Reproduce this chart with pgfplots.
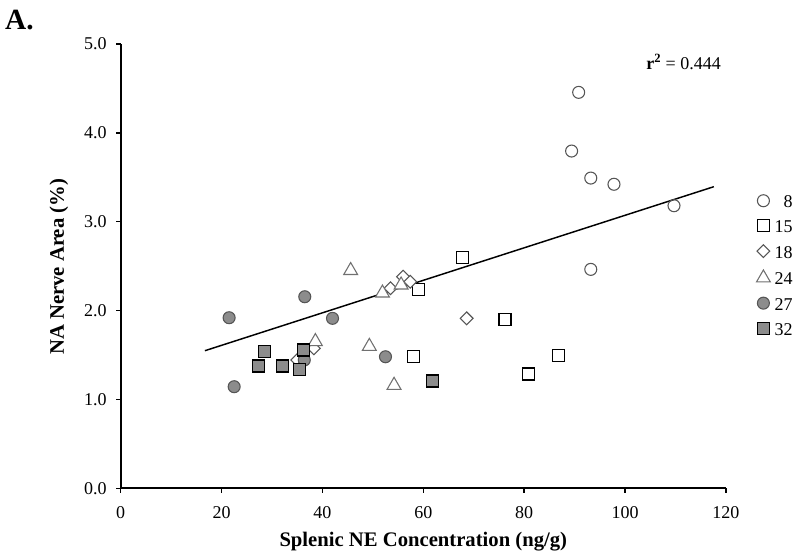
\documentclass[border=0pt]{standalone}
\usepackage{fontspec}
\setmainfont{Liberation Serif}
\usepackage{pgfplots}
\pgfplotsset{compat=1.18}
\definecolor{mkgray}{HTML}{8C8C8C}
\definecolor{ogray}{HTML}{555555}
\definecolor{tgray}{HTML}{707070}
\begin{document}
\begin{tikzpicture}
\useasboundingbox (0,0) rectangle (600pt,419.25pt);
\node[font=\fontsize{22}{24}\selectfont\bfseries] at (14.5pt,404pt) {A.};
\begin{axis}[
  at={(90.5pt,53pt)}, anchor=south west,
  x=3.783pt, y=66.675pt,
  xmin=0, xmax=120, ymin=0, ymax=5,
  clip=false,
  axis x line=bottom, axis y line=left,
  axis line style={-, line width=1.4pt},
  tick align=outside, major tick length=3.5pt,
  tick style={line width=1.2pt, black},
  xtick={0,20,...,120}, ytick={0,1,...,5},
  /pgf/number format/assume math mode=true,
  tick label style={font=\fontsize{13.5}{15}\selectfont},
  y tick label style={xshift=-3.5pt, /pgf/number format/.cd, fixed, fixed zerofill, precision=1},
  x tick label style={yshift=-6.5pt},
  xlabel={Splenic NE Concentration (ng/g)},
  ylabel={NA Nerve Area (\%)},
  every axis x label/.style={at={(axis description cs:0.5,-0.119)}, anchor=center, font=\fontsize{15.5}{18}\selectfont\bfseries},
  every axis y label/.style={at={(axis description cs:-0.102,0.498)}, anchor=center, rotate=90, font=\fontsize{15.5}{18}\selectfont\bfseries},
  legend image code/.code={\draw[#1] plot coordinates {(0pt,0.6pt)};},
  legend style={draw=none, fill=none, at={(axis description cs:1.050,0.662)}, anchor=north west,
    font=\fontsize{13.5}{15}\selectfont, row sep=8.1pt, inner sep=0pt,
    /tikz/every odd column/.append style={column sep=2.5pt},
    nodes={inner sep=0.8pt, text height=9.2pt, text depth=0pt}},
  legend cell align=left,
]
\addplot[only marks, mark=o, mark size=4.5pt, ogray, mark options={line width=0.8pt, fill=white}] coordinates {
 (90.8,4.454) (89.4,3.794) (93.2,3.490) (97.8,3.420) (109.7,3.179) (93.2,2.463)};
\addlegendentry{\phantom{1}8}
\addplot[only marks, mark=square*, mark size=4.5pt, draw=black, fill=white, mark options={line width=0.8pt}] coordinates {
 (67.7,2.598) (59.1,2.234) (76.2,1.904) (58.1,1.488) (86.8,1.496) (80.8,1.286)};
\addlegendentry{15}
\addplot[only marks, mark=square*, mark size=3.4pt, draw=ogray, fill=white, mark options={rotate=45, line width=0.8pt}] coordinates {
 (68.6,1.912) (56.0,2.380) (53.5,2.250) (57.4,2.324) (38.3,1.575) (35.0,1.443)};
\addlegendentry{18}
\addplot[only marks, mark=triangle*, mark size=6pt, draw=tgray, fill=white, mark options={line width=0.8pt}] coordinates {
 (45.6,2.450) (51.9,2.197) (55.6,2.287) (49.3,1.597) (54.2,1.159) (38.6,1.651)};
\addlegendentry{24}
\addplot[only marks, mark=*, mark size=4.5pt, draw=ogray, fill=mkgray, mark options={line width=0.8pt}] coordinates {
 (21.5,1.919) (36.5,2.155) (22.5,1.143) (36.4,1.443) (42.0,1.912) (52.5,1.480)};
\addlegendentry{27}
\addplot[only marks, mark=square*, mark size=4.5pt, draw=black, fill=mkgray, mark options={line width=0.8pt}] coordinates {
 (28.5,1.537) (27.3,1.376) (32.0,1.376) (36.2,1.556) (35.4,1.339) (61.8,1.207)};
\addlegendentry{32}
\addplot[black, line width=1.1pt, mark=none, forget plot] coordinates {(16.7,1.548) (117.6,3.393)};
\node[font=\fontsize{13.5}{15}\selectfont] at (axis cs:111.6,4.795) {\textbf{r\textsuperscript{2}} = 0.444};
\end{axis}
\end{tikzpicture}
\end{document}
